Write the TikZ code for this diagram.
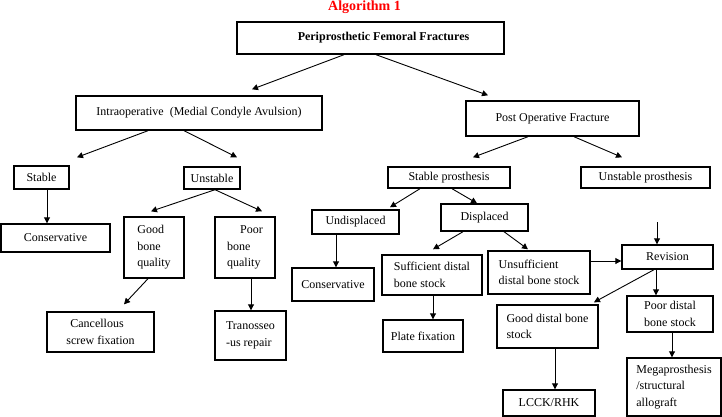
\documentclass[tikz,border=0pt]{standalone}
\usepackage{fontspec}
\setmainfont{Liberation Serif}
\usetikzlibrary{arrows.meta}
\definecolor{TitleRed}{RGB}{255, 0, 0}
\newcommand{\flowfont}{\fontsize{12}{16.5}\selectfont}

\begin{document}
\begin{tikzpicture}[x=1pt, y=-1pt,
    box/.style={draw, line width=1.4pt, inner sep=0pt, font=\flowfont, align=center},
    arr/.style={-{Triangle[length=6pt, width=6pt]}, line width=0.9pt}]
    \useasboundingbox (0,0) rectangle (722,417);

    % Title
    \node[font=\fontsize{14}{16}\selectfont\bfseries, text=TitleRed, anchor=base] (title) at (364.5,11) {Algorithm 1};

    % Root and first split
    \node[box, font=\flowfont\bfseries, minimum width=267pt, minimum height=32pt] (fract) at (370.5,38) {\hspace*{26pt}Periprosthetic Femoral Fractures};
    \node[box, minimum width=246pt, minimum height=34pt] (intra) at (199,113) {Intraoperative\ \ (Medial Condyle Avulsion)};
    \node[box, minimum width=173pt, minimum height=35pt] (postop) at (552.5,118.5) {Post Operative Fracture};

    % Intraoperative branch
    \node[box, minimum width=55pt, minimum height=23pt] (stable) at (41.5,177.5) {Stable};
    \node[box, minimum width=56pt, minimum height=22pt] (unstable) at (212,178) {Unstable};
    \node[box, minimum width=109pt, minimum height=28pt] (cons1) at (55.5,238) {Conservative};
    \node[box, align=left, minimum width=60pt, minimum height=61pt] (goodq) at (154,247.5) {Good\\bone\\quality};
    \node[box, align=left, minimum width=60pt, minimum height=61pt] (poorq) at (245,247.5) {\hspace*{13pt}Poor\\bone\\quality};
    \node[box, align=left, minimum width=107pt, minimum height=40pt] (screw) at (100.5,332) {\hspace*{4pt}Cancellous\\screw fixation};
    \node[box, align=left, minimum width=71pt, minimum height=49pt] (transo) at (250.5,335.5) {Tranosseo\\-us repair};

    % Post operative branch
    \node[box, minimum width=122pt, minimum height=21pt] (stabpro) at (449,177.5) {Stable prosthesis};
    \node[box, minimum width=129pt, minimum height=21pt] (unstabpro) at (645.5,177.5) {Unstable prosthesis};
    \node[box, minimum width=87pt, minimum height=24pt] (undisp) at (355.5,222) {Undisplaced};
    \node[box, minimum width=87pt, minimum height=27pt] (disp) at (484.5,217.5) {Displaced};
    \node[box, minimum width=82pt, minimum height=33pt] (cons2) at (333,284.5) {Conservative};
    \node[box, align=left, minimum width=100pt, minimum height=40pt] (suffst) at (432,275) {Sufficient distal\\bone stock};
    \node[box, align=left, minimum width=102pt, minimum height=43pt] (unsuffst) at (539,272.5) {Unsufficient\\distal bone stock};
    \node[box, minimum width=91pt, minimum height=24pt] (revis) at (667.5,257) {Revision};
    \node[box, minimum width=80pt, minimum height=32pt] (plate) at (423,336) {Plate fixation};
    \node[box, align=left, minimum width=101pt, minimum height=43pt] (gooddst) at (547.5,326.5) {Good distal bone\\stock};
    \node[box, align=left, minimum width=86pt, minimum height=36pt] (poordst) at (670,314) {Poor distal\\bone stock};
    \node[box, minimum width=92pt, minimum height=26pt] (lcck) at (549,403) {LCCK/RHK};
    \node[box, align=left, minimum width=94pt, minimum height=58pt] (megap) at (674,387) {Megaprosthesis\\/structural\\allograft};
    \coordinate (revtop) at (657,222);

    % Connectors
    \draw[arr] ([xshift=-26.5pt]fract.south) -- ([xshift=53pt, yshift=6pt]intra.north);
    \draw[arr] ([xshift=5.5pt]fract.south) -- ([xshift=-64.5pt, yshift=5pt]postop.north);
    \draw[arr] ([xshift=-51pt]intra.south) -- ([xshift=35.5pt, yshift=8pt]stable.north);
    \draw[arr] ([xshift=-15pt]intra.south) -- ([xshift=25pt, yshift=9pt]unstable.north);
    \draw[arr] ([xshift=5.5pt]stable.south) -- ([xshift=-8.5pt]cons1.north);
    \draw[arr] ([xshift=3pt]unstable.south) -- ([xshift=-3pt, yshift=5pt]goodq.north);
    \draw[arr] ([xshift=3pt]unstable.south) -- ([xshift=17pt, yshift=5pt]poorq.north);
    \draw[arr] ([xshift=-6pt]goodq.south) -- ([xshift=23.5pt, yshift=7pt]screw.north);
    \draw[arr] ([xshift=6pt]poorq.south) -- ([xshift=0.5pt]transo.north);
    \draw[arr] ([xshift=-24.5pt]postop.south) -- ([xshift=24pt, yshift=9pt]stabpro.north);
    \draw[arr] ([xshift=21.5pt]postop.south) -- ([xshift=-23.5pt, yshift=9pt]unstabpro.north);
    \draw[arr] ([xshift=-29pt]stabpro.south) -- ([xshift=34.5pt, yshift=2pt]undisp.north);
    \draw[arr] ([xshift=3pt]stabpro.south) -- ([xshift=-7.5pt]disp.north);
    \draw[arr] ([xshift=-19.5pt]undisp.south) -- ([xshift=3pt]cons2.north);
    \draw[arr] ([xshift=-21.5pt]disp.south) -- ([xshift=1pt, yshift=5pt]suffst.north);
    \draw[arr] ([xshift=19.5pt]disp.south) -- ([xshift=-11pt, yshift=1pt]unsuffst.north);
    \draw[arr] ([yshift=11.5pt]unsuffst.east) -- ([yshift=-4pt]revis.west);
    \draw[arr] (revtop) -- ([xshift=-10.5pt]revis.north);
    \draw[arr] ([xshift=-13.5pt]revis.south) -- ([xshift=46.5pt, yshift=2pt]gooddst.north);
    \draw[arr] ([xshift=-11.5pt]revis.south) -- ([xshift=-14pt]poordst.north);
    \draw[arr] ([xshift=1pt]suffst.south) -- ([xshift=10pt]plate.north);
    \draw[arr] ([xshift=7.5pt]gooddst.south) -- ([xshift=6pt]lcck.north);
    \draw[arr] ([xshift=2pt]poordst.south) -- ([xshift=-2pt]megap.north);
\end{tikzpicture}
\end{document}
